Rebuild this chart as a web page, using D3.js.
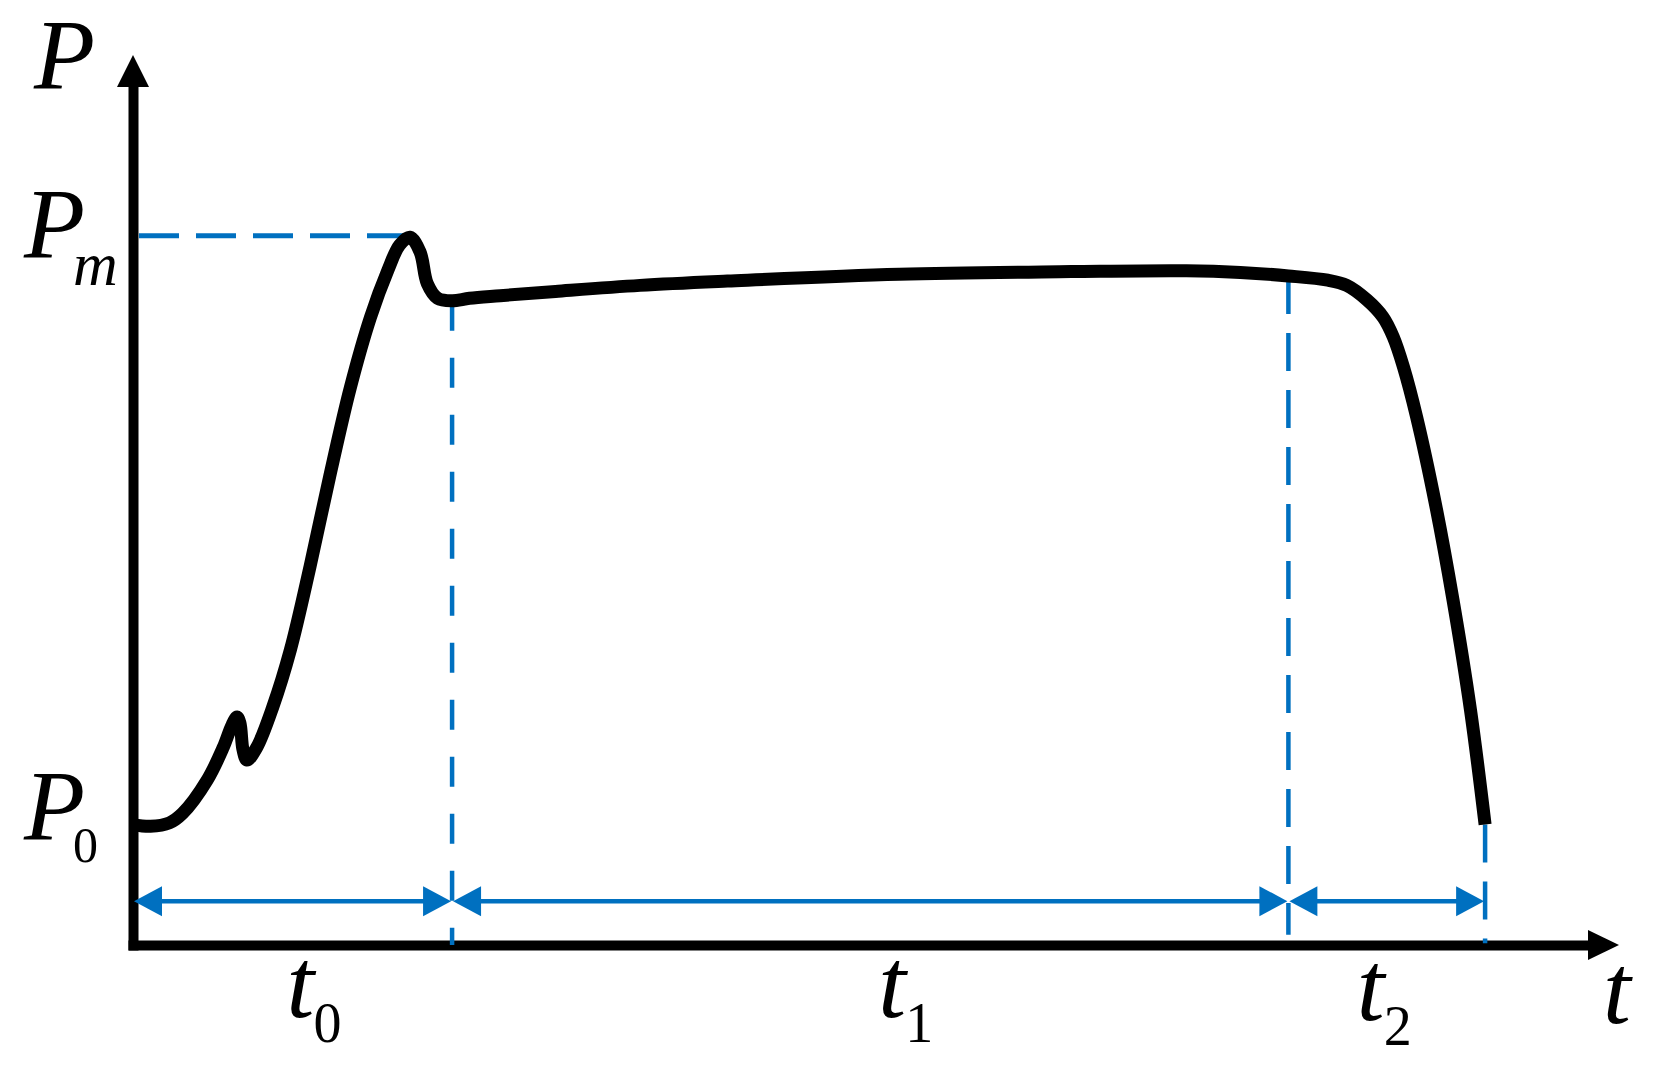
<!DOCTYPE html>
<html>
<head>
<meta charset="utf-8">
<script src="https://cdn.jsdelivr.net/npm/d3@7"></script>
<style>
  body { margin: 0; background: #fff; }
  text { font-family: "Liberation Serif", "Times New Roman", serif; fill: #000; }
</style>
</head>
<body>
<div id="chart"></div>
<script>
// power curve (time and pressure in arbitrary units, 0..100)
var timeVals  = [0, 1.2, 2.5, 3.4, 5.1, 6.2, 6.8, 7.14, 7.34, 7.55, 7.82, 8.5, 9.6, 10.8, 12.15, 13.5, 14.9, 16.3, 17.5, 18.3, 19.0, 19.7, 20.2, 20.9, 21.9, 23.1, 25.2, 29.0, 34.8, 40.8, 52.6, 64.4, 72.3, 76.0, 79.3, 82.0, 83.3, 84.7, 85.8, 86.5, 87.2, 88.1, 89.4, 90.6, 91.8, 92.8];
var powerVals = [14.0, 13.8, 14.2, 15.3, 19.2, 23.0, 25.6, 26.5, 25.8, 22.7, 21.5, 23.0, 27.7, 34.3, 44.0, 54.5, 64.7, 73.0, 78.5, 81.4, 82.3, 80.6, 76.9, 75.2, 74.9, 75.2, 75.5, 76.0, 76.7, 77.2, 78.0, 78.3, 78.4, 78.2, 77.8, 77.3, 76.7, 75.0, 73.0, 70.7, 67.2, 61.4, 51.2, 40.1, 27.3, 14.0];

// phase boundaries on the time axis and their subscripts
var phaseBounds = [0, 21.9, 79.3, 92.8];
var phaseNames  = ["0", "1", "2"];

var P0 = 14.0;
var Pm = 82.3;

var width = 1659;
var height = 1075;
var blue = "#0070C0";

var svg = d3.select("#chart").append("svg")
    .attr("width", width)
    .attr("height", height);

svg.append("rect").attr("width", width).attr("height", height).attr("fill", "#fff");

var x = d3.scaleLinear().domain([0, 100]).range([133, 1590]);
var y = d3.scaleLinear().domain([0, 100]).range([945, 85]);

// axes: no ticks, only the domain line
svg.append("g")
    .attr("transform", "translate(0," + y(0) + ")")
    .call(d3.axisBottom(x).tickValues([]).tickSizeOuter(0));
svg.append("g")
    .attr("transform", "translate(" + x(0) + ",0)")
    .call(d3.axisLeft(y).tickValues([]).tickSizeOuter(0));

svg.selectAll(".domain")
    .attr("stroke", "#000")
    .attr("stroke-width", 10)
    .attr("stroke-linecap", "square");

// axis arrow heads
var tri = d3.line();
svg.append("path")
    .attr("d", tri([[x(100) - 2, y(0) - 15], [x(100) + 29, y(0)], [x(100) - 2, y(0) + 15]]) + "Z")
    .attr("fill", "#000");
svg.append("path")
    .attr("d", tri([[x(0) - 16, y(100) + 2], [x(0), y(100) - 30], [x(0) + 16, y(100) + 2]]) + "Z")
    .attr("fill", "#000");

// blue dashed guides
svg.append("line")
    .attr("x1", x(0) + 6).attr("x2", x(timeVals[powerVals.indexOf(Pm)]))
    .attr("y1", y(Pm) - 1.5).attr("y2", y(Pm) - 1.5)
    .attr("stroke", blue).attr("stroke-width", 5)
    .attr("stroke-dasharray", "40,17");

var guideTops = [74.9, 77.8, 14.0];
var guideBottoms = [0, 1.2, 0.2];
var guideDash = ["30,27", "38,19", "38,19"];
svg.selectAll(".guide")
    .data(phaseBounds.slice(1))
    .enter().append("line")
    .attr("class", "guide")
    .attr("x1", function(d) { return x(d); })
    .attr("x2", function(d) { return x(d); })
    .attr("y1", function(d, i) { return y(guideTops[i]); })
    .attr("y2", function(d, i) { return y(guideBottoms[i]); })
    .attr("stroke", blue)
    .attr("stroke-width", 4.5)
    .attr("stroke-dasharray", function(d, i) { return guideDash[i]; });

// double headed phase arrows
var arrowLevel = 5.1;
var headLen = 28, headHalf = 15;
var phases = d3.range(phaseNames.length).map(function(i) {
    return { a: phaseBounds[i], b: phaseBounds[i + 1], name: phaseNames[i] };
});

var arrows = svg.selectAll(".phase")
    .data(phases)
    .enter().append("g")
    .attr("class", "phase");

arrows.append("line")
    .attr("x1", function(d) { return x(d.a) + 10; })
    .attr("x2", function(d) { return x(d.b) - 10; })
    .attr("y1", y(arrowLevel)).attr("y2", y(arrowLevel))
    .attr("stroke", blue).attr("stroke-width", 4.5);

arrows.append("path")
    .attr("d", function(d) {
        var x0 = x(d.a) + 1, yy = y(arrowLevel);
        return tri([[x0, yy], [x0 + headLen, yy - headHalf], [x0 + headLen, yy + headHalf]]) + "Z";
    })
    .attr("fill", blue);
arrows.append("path")
    .attr("d", function(d) {
        var x1 = x(d.b) - 1, yy = y(arrowLevel);
        return tri([[x1, yy], [x1 - headLen, yy - headHalf], [x1 - headLen, yy + headHalf]]) + "Z";
    })
    .attr("fill", blue);

// the power curve
var line = d3.line()
    .x(function(d) { return x(d[0]); })
    .y(function(d) { return y(d[1]); })
    .curve(d3.curveCatmullRom.alpha(0.5));

svg.append("path")
    .datum(d3.zip(timeVals, powerVals))
    .attr("d", line)
    .attr("fill", "none")
    .attr("stroke", "#000")
    .attr("stroke-width", 13)
    .attr("stroke-linejoin", "round");

// labels
function label(tx, ty, s, size, italic) {
    svg.append("text")
        .attr("x", tx).attr("y", ty)
        .attr("font-size", size)
        .attr("font-style", italic ? "italic" : "normal")
        .text(s);
}

label(34, 88, "P", 100, true);
label(24, y(Pm) + 20, "P", 100, true);
label(73, y(Pm) + 48, "m", 62, true);
label(24, y(P0) + 14, "P", 100, true);
label(73, y(P0) + 37, "0", 50, false);
label(1603, 1023, "t", 100, true);

// phase labels under the axis
var labelShift = [-4, 10, -28];
var labelBase = [1017, 1017, 1020];
phases.forEach(function(d, i) {
    var lx = (x(d.a) + x(d.b)) / 2 + labelShift[i];
    label(lx - 2, labelBase[i], "t", 100, true);
    label(lx + 25, labelBase[i] + 25, d.name, 56, false);
});
</script>
</body>
</html>
